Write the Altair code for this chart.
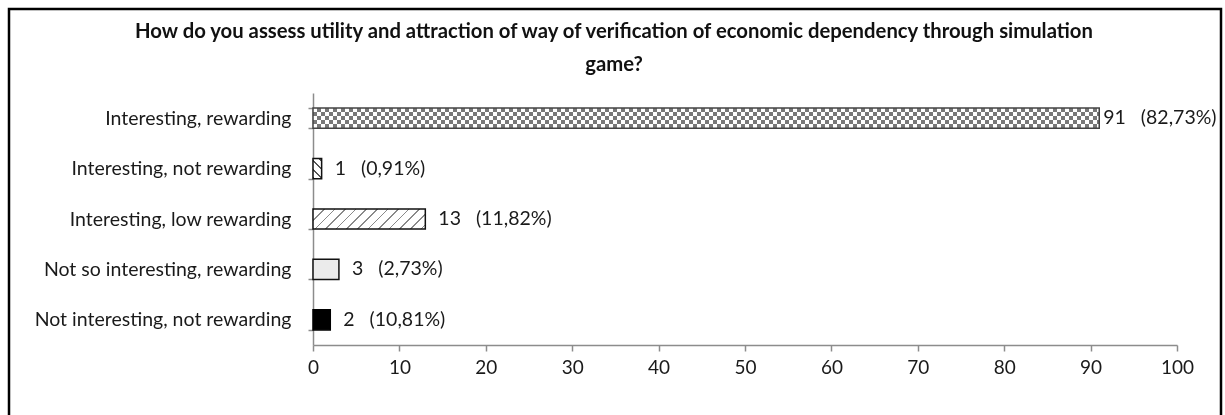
import altair as alt
import pandas as pd

categories = [
    "Interesting, rewarding",
    "Interesting, not rewarding",
    "Interesting, low rewarding",
    "Not so interesting, rewarding",
    "Not interesting, not rewarding",
]
counts = [91, 1, 13, 3, 2]
percents = ["82,73%", "0,91%", "11,82%", "2,73%", "10,81%"]
x_ticks = [0, 10, 20, 30, 40, 50, 60, 70, 80, 90, 100]

title_lines = [
    "How do you assess utility and attraction of way of verification of economic dependency through simulation",
    "game?",
]

df = pd.DataFrame({
    "category": categories,
    "count": counts,
    "label": [f"{c}\u00a0\u00a0\u00a0({p})" for c, p in zip(counts, percents)],
})

FONT = "Lato"
W, H = 864, 252
X_MAX = 100
PAD_IN, PAD_OUT = 0.6, 0.3
STEP = H / (len(categories) - PAD_IN + 2 * PAD_OUT)
BAND = STEP * (1 - PAD_IN)


def stripes(w, h, px, py, period, line_w, dark, light):
    """Linear gradient that draws parallel stripes of fixed pixel size on a w x h box."""
    u0 = 0 if px >= 0 else 1
    v0 = 0 if py >= 0 else 1
    span = abs(px) * w + abs(py) * h
    k = span / ((px * w) ** 2 + (py * h) ** 2)
    stops = []
    pos = 0.0
    while pos < span:
        a = pos / span
        b = min((pos + line_w) / span, 1)
        c = min((pos + period) / span, 1)
        stops += [alt.GradientStop(offset=a, color=dark), alt.GradientStop(offset=b, color=dark),
                  alt.GradientStop(offset=b, color=light), alt.GradientStop(offset=c, color=light)]
        pos += period
    return alt.LinearGradient(gradient="linear", stops=stops, x1=u0, y1=v0,
                              x2=u0 + k * px * w, y2=v0 + k * py * h)


def width_of(cat):
    return counts[categories.index(cat)] / X_MAX * W


y_enc = alt.Y("category:N", sort=categories,
              scale=alt.Scale(paddingInner=PAD_IN, paddingOuter=PAD_OUT),
              axis=alt.Axis(title=None, tickBand="extent", tickSize=5, labelPadding=17,
                            labelFontSize=19.5, labelFont=FONT, labelColor="#1a1a1a",
                            domainColor="#8c8c8c", tickColor="#8c8c8c", labelLimit=400,
                            domainWidth=1.5, tickWidth=1.5))
x_enc = alt.X("count:Q", scale=alt.Scale(domain=[0, X_MAX], nice=False),
              axis=alt.Axis(title=None, values=x_ticks, grid=False, tickSize=6,
                            labelPadding=7, labelFontSize=19, labelFont=FONT, labelFlush=False,
                            labelColor="#1a1a1a", domainColor="#8c8c8c", tickColor="#8c8c8c",
                            domainWidth=1.5, tickWidth=1.5))
y_plain = alt.Y("category:N", sort=categories)

base = alt.Chart(df)


def bar_layer(cat, **mark_kwargs):
    return base.transform_filter(alt.datum.category == cat).mark_bar(**mark_kwargs).encode(
        y=y_enc, x=x_enc)


c1, c2, c3, c4, c5 = categories
w1 = width_of(c1)

# Checkerboard: vertical stripes, inverted by horizontal stripes, then lightened
chk_a = bar_layer(c1, fill=stripes(w1, BAND, 1, 0, 8, 4, "#000000", "#ffffff"), strokeWidth=0)
chk_b = bar_layer(c1, fill=stripes(w1, BAND, 0, 1, 8, 4, "#ffffff", "rgba(255,255,255,0)"),
                  strokeWidth=0, blend="difference")
chk_c = bar_layer(c1, fill="#ffffff", fillOpacity=0.47, strokeWidth=0)
chk_d = bar_layer(c1, fill="transparent", stroke="#444444", strokeWidth=1.5)

hatch2 = bar_layer(c2, fill=stripes(width_of(c2), BAND, 0.7071, -0.7071, 6, 1.3, "#555555", "#ffffff"),
                   stroke="#111111", strokeWidth=1.5)
hatch3 = bar_layer(c3, fill=stripes(width_of(c3), BAND, 0.7071, 0.7071, 7.5, 1.1, "#8a8a8a", "#ffffff"),
                   stroke="#111111", strokeWidth=1.5)
dots4 = bar_layer(c4, fill="#ebebeb", stroke="#111111", strokeWidth=1.5)
solid5 = bar_layer(c5, fill="#000000", stroke="#000000", strokeWidth=1.5)

labels_big = base.transform_filter(alt.datum["count"] >= 50).mark_text(
    align="left", baseline="middle", dx=4, fontSize=19.5, font=FONT, color="#1a1a1a"
).encode(y=y_plain, x="count:Q", text="label:N")

labels_small = base.transform_filter(alt.datum["count"] < 50).mark_text(
    align="left", baseline="middle", dx=13, fontSize=19.5, font=FONT, color="#1a1a1a"
).encode(y=y_plain, x="count:Q", text="label:N")

border = alt.Chart(pd.DataFrame({"k": [0]})).mark_rect(
    fill="transparent", stroke="#000", strokeWidth=2.5
).encode(x=alt.value(-304), x2=alt.value(908), y=alt.value(-84), y2=alt.value(340))

chart = alt.layer(border, chk_a, chk_b, chk_c, chk_d, hatch2, hatch3, dots4, solid5,
                  labels_big, labels_small).properties(
    width=W, height=H,
    title=alt.TitleParams(title_lines, anchor="middle", frame="group", dx=-131, dy=82,
                          font=FONT, fontSize=20.3, fontWeight="bold", color="#111",
                          lineHeight=33, offset=14),
    autosize=alt.AutoSizeParams(type="none"),
    padding={"left": 313, "top": 93, "right": 48, "bottom": 70},
).configure(background="white").configure_view(strokeWidth=0, stroke="transparent")

chart.save("out.html", embed_options={"renderer": "svg", "actions": False})
